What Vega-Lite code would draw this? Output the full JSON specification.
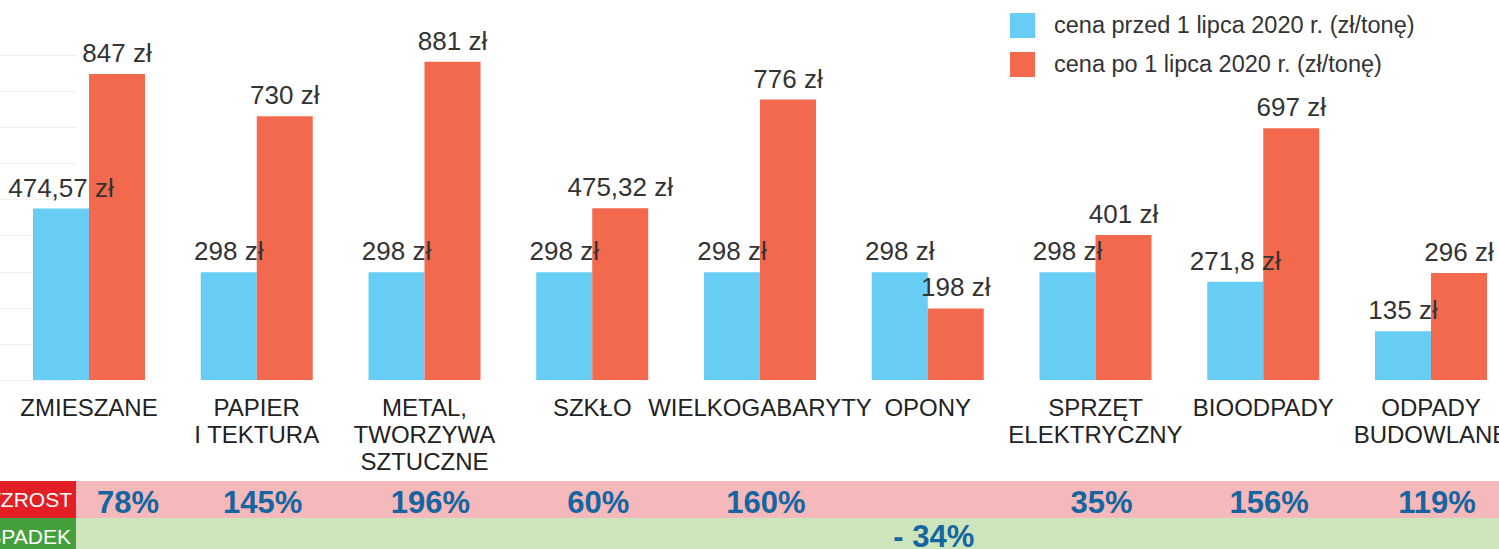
{
  "$schema": "https://vega.github.io/schema/vega-lite/v6.json",
  "width": 1499,
  "height": 549,
  "padding": 0,
  "autosize": {"type": "none"},
  "background": "white",
  "config": {
    "view": {"stroke": null},
    "font": "Liberation Sans",
    "locale": {
      "number": {
        "decimal": ",",
        "thousands": " ",
        "grouping": [3],
        "currency": ["", " zł"],
        "minus": "- "
      }
    }
  },
  "datasets": {
    "ceny": [
      {"kategoria": "ZMIESZANE", "okres": "cena przed 1 lipca 2020 r. (zł/tonę)", "cena": 474.57},
      {"kategoria": "ZMIESZANE", "okres": "cena po 1 lipca 2020 r. (zł/tonę)", "cena": 847},
      {"kategoria": "PAPIER\nI TEKTURA", "okres": "cena przed 1 lipca 2020 r. (zł/tonę)", "cena": 298},
      {"kategoria": "PAPIER\nI TEKTURA", "okres": "cena po 1 lipca 2020 r. (zł/tonę)", "cena": 730},
      {"kategoria": "METAL,\nTWORZYWA\nSZTUCZNE", "okres": "cena przed 1 lipca 2020 r. (zł/tonę)", "cena": 298},
      {"kategoria": "METAL,\nTWORZYWA\nSZTUCZNE", "okres": "cena po 1 lipca 2020 r. (zł/tonę)", "cena": 881},
      {"kategoria": "SZKŁO", "okres": "cena przed 1 lipca 2020 r. (zł/tonę)", "cena": 298},
      {"kategoria": "SZKŁO", "okres": "cena po 1 lipca 2020 r. (zł/tonę)", "cena": 475.32},
      {"kategoria": "WIELKOGABARYTY", "okres": "cena przed 1 lipca 2020 r. (zł/tonę)", "cena": 298},
      {"kategoria": "WIELKOGABARYTY", "okres": "cena po 1 lipca 2020 r. (zł/tonę)", "cena": 776},
      {"kategoria": "OPONY", "okres": "cena przed 1 lipca 2020 r. (zł/tonę)", "cena": 298},
      {"kategoria": "OPONY", "okres": "cena po 1 lipca 2020 r. (zł/tonę)", "cena": 198},
      {"kategoria": "SPRZĘT\nELEKTRYCZNY", "okres": "cena przed 1 lipca 2020 r. (zł/tonę)", "cena": 298},
      {"kategoria": "SPRZĘT\nELEKTRYCZNY", "okres": "cena po 1 lipca 2020 r. (zł/tonę)", "cena": 401},
      {"kategoria": "BIOODPADY", "okres": "cena przed 1 lipca 2020 r. (zł/tonę)", "cena": 271.8},
      {"kategoria": "BIOODPADY", "okres": "cena po 1 lipca 2020 r. (zł/tonę)", "cena": 697},
      {"kategoria": "ODPADY\nBUDOWLANE", "okres": "cena przed 1 lipca 2020 r. (zł/tonę)", "cena": 135},
      {"kategoria": "ODPADY\nBUDOWLANE", "okres": "cena po 1 lipca 2020 r. (zł/tonę)", "cena": 296}
    ],
    "zmiany": [
      {"kategoria": "ZMIESZANE", "zmiana": 0.78},
      {"kategoria": "PAPIER\nI TEKTURA", "zmiana": 1.45},
      {"kategoria": "METAL,\nTWORZYWA\nSZTUCZNE", "zmiana": 1.96},
      {"kategoria": "SZKŁO", "zmiana": 0.60},
      {"kategoria": "WIELKOGABARYTY", "zmiana": 1.60},
      {"kategoria": "OPONY", "zmiana": -0.34},
      {"kategoria": "SPRZĘT\nELEKTRYCZNY", "zmiana": 0.35},
      {"kategoria": "BIOODPADY", "zmiana": 1.56},
      {"kategoria": "ODPADY\nBUDOWLANE", "zmiana": 1.19}
    ],
    "wiersze": [
      {"wiersz": "WZROST"},
      {"wiersz": "SPADEK"}
    ]
  },
  "layer": [
    {
      "layer": [
        {
          "data": {"name": "wiersze"},
          "transform": [{"filter": "datum.wiersz == 'WZROST'"}],
          "mark": {"type": "rect", "color": "#f5b9bb"},
          "encoding": {"y": {"datum": -279.5}, "y2": {"datum": -381.9}}
        },
        {
          "data": {"name": "wiersze"},
          "transform": [{"filter": "datum.wiersz == 'SPADEK'"}],
          "mark": {"type": "rect", "color": "#cde5bd"},
          "encoding": {"y": {"datum": -381.9}, "y2": {"datum": -467.7}}
        },
        {
          "data": {"name": "wiersze"},
          "transform": [{"filter": "datum.wiersz == 'WZROST'"}],
          "mark": {"type": "rect", "color": "#e31e25"},
          "encoding": {
            "x": {"datum": "etykieta", "type": "nominal", "axis": null, "scale": {"domain": ["etykieta"], "range": [0, 76], "paddingInner": 0, "paddingOuter": 0}},
            "y": {"datum": -279.5},
            "y2": {"datum": -381.9}
          }
        },
        {
          "data": {"name": "wiersze"},
          "transform": [{"filter": "datum.wiersz == 'SPADEK'"}],
          "mark": {"type": "rect", "color": "#43a03d"},
          "encoding": {
            "x": {"datum": "etykieta", "type": "nominal", "axis": null},
            "y": {"datum": -381.9},
            "y2": {"datum": -467.7}
          }
        },
        {
          "data": {"name": "wiersze"},
          "transform": [{"filter": "datum.wiersz == 'WZROST'"}],
          "mark": {"type": "text", "color": "white", "fontSize": 21, "align": "right", "baseline": "alphabetic", "dx": 34},
          "encoding": {
            "x": {"datum": "etykieta", "type": "nominal", "axis": null},
            "y": {"datum": -351.5},
            "text": {"field": "wiersz"}
          }
        },
        {
          "data": {"name": "wiersze"},
          "transform": [{"filter": "datum.wiersz == 'SPADEK'"}],
          "mark": {"type": "text", "color": "white", "fontSize": 21, "align": "right", "baseline": "alphabetic", "dx": 33},
          "encoding": {
            "x": {"datum": "etykieta", "type": "nominal", "axis": null},
            "y": {"datum": -453.9},
            "text": {"field": "wiersz"}
          }
        }
      ]
    },
    {
      "encoding": {
        "x": {
          "field": "kategoria",
          "type": "nominal",
          "axis": null,
          "scale": {
            "domain": ["ZMIESZANE", "PAPIER\nI TEKTURA", "METAL,\nTWORZYWA\nSZTUCZNE", "SZKŁO", "WIELKOGABARYTY", "OPONY", "SPRZĘT\nELEKTRYCZNY", "BIOODPADY", "ODPADY\nBUDOWLANE"],
            "range": [0, 1520],
            "paddingInner": 0.3323,
            "paddingOuter": 0.1967
          }
        }
      },
      "layer": [
        {
          "data": {"name": "ceny"},
          "mark": {"type": "bar"},
          "encoding": {
            "xOffset": {"field": "okres", "type": "nominal", "scale": {"domain": ["cena przed 1 lipca 2020 r. (zł/tonę)", "cena po 1 lipca 2020 r. (zł/tonę)"], "paddingInner": 0, "paddingOuter": 0}},
            "y": {
              "field": "cena",
              "type": "quantitative",
              "scale": {"domain": [-467.7, 1051.7], "nice": false, "zero": false},
              "axis": {"values": [0, 100, 200, 300, 400, 500, 600, 700, 800, 900], "grid": true, "gridColor": "#f1f1f1", "domain": false, "ticks": false, "labels": false, "title": null}
            },
            "color": {
              "field": "okres",
              "type": "nominal",
              "scale": {"domain": ["cena przed 1 lipca 2020 r. (zł/tonę)", "cena po 1 lipca 2020 r. (zł/tonę)"], "range": ["#67cdf4", "#f2694e"]},
              "legend": {
                "orient": "none",
                "legendX": 1010,
                "legendY": 13,
                "title": null,
                "symbolType": "square",
                "symbolSize": 625,
                "symbolStrokeWidth": 0,
                "labelFontSize": 23.5,
                "labelColor": "#333333",
                "labelOffset": 19,
                "rowPadding": 14,
                "padding": 0,
                "labelLimit": 0
              }
            }
          }
        },
        {
          "data": {"name": "ceny"},
          "mark": {"type": "text", "fontSize": 26, "color": "#333333", "dy": -12, "baseline": "alphabetic"},
          "encoding": {
            "xOffset": {"field": "okres", "type": "nominal", "scale": {"domain": ["cena przed 1 lipca 2020 r. (zł/tonę)", "cena po 1 lipca 2020 r. (zł/tonę)"], "paddingInner": 0, "paddingOuter": 0}},
            "y": {"field": "cena", "type": "quantitative"},
            "text": {"field": "cena", "type": "quantitative", "format": "$~f"}
          }
        },
        {
          "data": {"name": "zmiany"},
          "mark": {"type": "text", "fontSize": 24, "color": "#222222", "baseline": "top", "lineBreak": "\n", "lineHeight": 27},
          "encoding": {
            "y": {"datum": -47.05},
            "text": {"field": "kategoria"}
          }
        },
        {
          "data": {"name": "zmiany"},
          "transform": [{"filter": "datum.zmiana > 0 && datum.kategoria != 'ZMIESZANE'"}],
          "mark": {"type": "text", "fontSize": 31, "fontWeight": "bold", "color": "#1565a0", "baseline": "alphabetic", "dx": 6},
          "encoding": {
            "y": {"datum": -368.1},
            "text": {"field": "zmiana", "type": "quantitative", "format": ".0%"}
          }
        },
        {
          "data": {"name": "zmiany"},
          "transform": [{"filter": "datum.kategoria == 'ZMIESZANE'"}],
          "mark": {"type": "text", "fontSize": 31, "fontWeight": "bold", "color": "#1565a0", "baseline": "alphabetic", "dx": 39},
          "encoding": {
            "y": {"datum": -368.1},
            "text": {"field": "zmiana", "type": "quantitative", "format": ".0%"}
          }
        },
        {
          "data": {"name": "zmiany"},
          "transform": [{"filter": "datum.zmiana < 0"}],
          "mark": {"type": "text", "fontSize": 31, "fontWeight": "bold", "color": "#1565a0", "baseline": "alphabetic", "dx": 6},
          "encoding": {
            "y": {"datum": -462.2},
            "text": {"field": "zmiana", "type": "quantitative", "format": ".0%"}
          }
        }
      ]
    }
  ],
  "resolve": {"scale": {"x": "independent"}}
}
